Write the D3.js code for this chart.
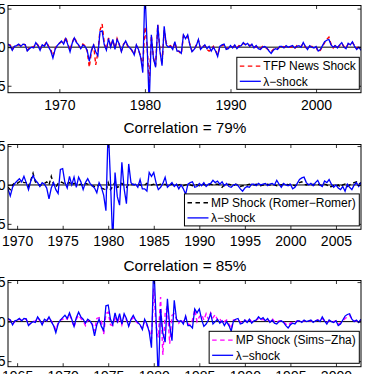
<!DOCTYPE html>
<html>
<head>
<meta charset="utf-8">
<script src="https://cdn.jsdelivr.net/npm/d3@7"></script>
<style>
  body { margin: 0; background: #fff; }
  svg { display: block; font-family: "Liberation Sans", Arial, sans-serif; }
</style>
</head>
<body>
<div id="chart"></div>
<script>
// quarterly series, first value is the start quarter
// lambda-shock, 1964Q1 - 2007Q4
const lambdaShock = [
  0.4, 0.2, -0.4, 0.1,    0.2, 0.4, 0.1, 0.4,     0.35, -0.5, -0.2, 0.0,   -0.1, 0.6, 0.2, -0.4,
  0.3, 0.1, 0.6, 0.0,     -0.5, -1.4, -0.3, 0.2,  0.5, 0.8, 0.4, 1.1,      0.3, -0.6, 0.5, 1.2,
  0.6, 0.3, -0.2, 0.3,    0.1, -0.4, -1.8, -0.4,  0.3, -0.6, -1.1, 2.0,    2.1, 0.3, -0.4, 1.1,
  0.0, 1.0, -0.3, 1.0,    0.4, -0.6, 0.3, 0.8,    0.2, -0.1, -0.4, -1.0,   0.3, -0.3, -1.3, -3.3,
  7.5, 0.5, -7.5, 1.6,    -1.5, -2.6, 2.9, -0.5,  -2.4, 2.7, 0.3, 0.0,     0.1, -0.3, 0.7, -0.5,
  -0.5, -0.8, 1.6, 1.1,   1.6, 0.3, -0.6, -0.3,   0.2, 1.0, -0.3, 0.0,     0.3, -0.2, 0.1, -0.5,
  0.0, -0.5, -1.2, 0.1,   0.3, 0.4, -0.3, -0.2,   0.2, -0.1, 0.3, -0.2,    0.1, 0.2, 0.6, 0.3,
  0.5, 0.1, 0.4, -0.1,    0.2, -0.2, -0.3, 0.0,   0.1, -0.1, -0.5, -0.8,   -0.4, -0.2, -0.3, 0.1,
  0.1, -0.1, 0.2, 0.0,    0.1, 0.2, -0.1, 0.1,    0.2, 0.0, 0.6, 0.1,      -0.3, 0.2, 0.0, -0.1,
  0.1, -0.5, -0.3, 0.2,   0.7, 0.9, 1.0, 0.3,     0.0, 0.2, -0.1, 0.3,     0.6, 0.0, -0.2, 0.5,
  0.3, 0.7, 0.1, -0.3,    0.0, -0.4, -0.6, -0.2,  -0.8, 0.1, -0.3, -0.6,   0.0, 0.3, -0.2, 0.3
];
// TFP news shock, 1964Q1 - 2005Q1
const tfpNews = [
  0.3, 0.3, -0.3, 0.1,    0.2, 0.3, 0.2, 0.4,     0.3, -0.4, -0.1, 0.1,    0.0, 0.5, 0.3, -0.3,
  0.3, 0.2, 0.7, 0.1,     -0.3, -1.2, -0.2, 0.3,  0.5, 0.7, 0.5, 1.3,      0.4, -0.4, 0.6, 1.3,
  0.7, 0.2, -0.1, 0.4,    0.2, -0.5, -2.6, -0.6,  0.4, -2.3, -0.7, 2.2,    3.0, 0.5, -0.3, 1.2,
  0.1, 0.9, -0.2, 1.1,    0.3, -0.5, 0.4, 0.7,    0.1, 0.0, -0.5, -0.9,    0.2, -0.4, -1.1, -2.5,
  2.6, 0.2, -4.7, 1.5,    -1.4, -2.4, 2.9, -0.3,  -2.2, 2.2, 0.5, 0.1,     0.2, -0.2, 0.6, -0.4,
  -0.6, -0.9, 1.5, 1.2,   1.4, 0.4, -0.5, -0.4,   0.3, 0.9, -0.2, 0.1,     0.2, -0.3, -0.5, -0.3,
  0.1, -0.4, -1.0, 0.0,   0.2, 0.3, -0.2, -0.1,   0.1, 0.0, 0.2, -0.1,     0.2, 0.1, 0.5, 0.4,
  0.4, 0.2, 0.3, 0.0,     0.1, -0.1, -0.2, 0.1,   0.0, -0.2, -0.4, -0.6,   -0.3, -0.1, -0.2, 0.0,
  0.2, 0.0, 0.1, 0.1,     0.0, 0.1, -0.2, 0.2,    0.1, 0.1, 0.5, 0.0,      -0.2, 0.1, 0.1, 0.0,
  0.0, -0.6, -0.4, 0.1,   0.6, 1.0, 1.3, 0.4,     -0.1, 0.3, 0.0, 0.2,     0.5, 0.1, -0.1, 0.4,
  0.4, 0.6, 0.2, -0.2,    0.1
];
// MP shock (Romer-Romer), 1969Q1 - 2007Q4
const mpRomer = [
  -0.3, -0.6, 0.0, 0.3,   0.2, 0.4, 0.5, 0.3,     0.3, -0.2, 0.6, 1.5,     0.4, 0.2, -0.1, 0.1,
  0.2, 0.4, 0.0, 1.1,     0.1, -0.3, 0.2, 0.4,    0.3, 0.1, 0.2, 0.3,      0.0, 0.2, 0.1, 0.0,
  0.1, -0.1, 0.2, 0.1,    0.0, -0.1, -0.2, -0.3,  0.1, -0.4, -0.5, -0.8,   0.3, -0.6, -0.2, 0.4,
  -0.3, -0.2, 0.2, -0.1,  -0.3, 0.1, 0.0, 0.1,    0.0, 0.1, 0.0, -0.1,     0.0, 0.2, 0.1, 0.0,
  0.1, -0.1, 0.0, 0.1,    0.0, 0.1, -0.1, 0.0,    0.1, 0.0, -0.1, 0.0,     0.1, -0.1, 0.0, 0.1,
  0.0, -0.1, 0.1, 0.0,    -0.1, 0.0, 0.1, -0.1,   0.0, 0.1, 0.0, 0.1,      0.1, 0.0, -0.3, 0.0,
  0.0, 0.1, 0.0, -0.1,    0.1, 0.0, -0.2, -0.1,   -0.1, 0.0, 0.1, 0.0,     0.0, 0.1, 0.0, -0.1,
  0.0, 0.0, 0.1, 0.0,     0.1, 0.0, -0.1, 0.0,    0.0, 0.1, 0.2, 0.0,      0.1, 0.0, -0.1, 0.0,
  0.3, 0.4, 0.1, 0.0,     0.1, 0.0, 0.1, 0.0,     0.1, 0.0, -0.1, 0.1,     0.0, -0.3, -0.2, -0.1,
  -0.2, 0.0, -0.3, 0.0,   0.1, -0.2, 0.0, 0.2,    0.3, 0.4, 0.1, 0.3
];
// MP shock (Sims-Zha), 1964Q1 - 2002Q4
const mpSimsZha = [
  0.3, 0.2, -0.3, 0.0,    0.2, 0.3, 0.2, 0.3,     0.3, -0.4, -0.2, 0.1,    0.0, 0.5, 0.1, -0.3,
  0.2, 0.1, 0.5, 0.1,     -0.4, -1.0, -0.2, 0.2,  0.3, 0.5, 0.3, 0.9,      0.2, -0.7, 0.3, 0.8,
  0.4, 0.1, -0.5, 0.2,    0.0, -0.3, -1.2, 0.4,   0.5, 0.1, -1.6, 1.0,     1.2, -0.4, -0.5, 0.7,
  -0.2, 0.6, -0.4, 0.8,   0.2, -0.5, 0.2, 0.5,    0.1, -0.2, -0.5, -0.8,   0.1, -0.5, -1.0, -2.2,
  4.2, -0.5, -2.0, 3.1,   -4.2, 1.0, 2.0, -2.8,   0.8, 1.0, 0.3, -0.2,     0.3, -0.1, 0.6, -0.3,
  -0.4, 0.2, 1.5, 0.0,    0.6, 0.9, 0.2, 1.0,     0.3, 1.1, 0.5, 0.9,      0.2, 0.4, -0.2, 0.0,
  0.2, -0.3, -0.9, 0.2,   0.2, 0.3, -0.1, 0.0,    0.2, 0.0, 0.3, 0.0,      0.1, 0.2, 0.4, 0.2,
  0.3, 0.1, 0.2, 0.0,     0.4, 0.0, -0.1, 0.1,    0.1, 0.0, -0.3, -0.5,    -0.2, -0.1, -0.1, 0.1,
  0.1, 0.0, 0.1, 0.1,     0.1, 0.1, 0.0, 0.1,     0.2, 0.1, 0.4, 0.1,      -0.1, 0.1, 0.1, 0.0,
  0.1, -0.3, -0.2, 0.1,   0.4, 0.6, 0.8, 0.3,     0.1, 0.1, 0.0, 0.2
];

const titles = ["", "Correlation = 79%", "Correlation = 85%"];
const compareNames = ["TFP News Shock", "MP Shock (Romer\u2212Romer)", "MP Shock (Sims\u2212Zha)"];
const lambdaName = "\u03bb\u2212shock";
const xTicks = [
  [1970, 1980, 1990, 2000],
  [1970, 1975, 1980, 1985, 1990, 1995, 2000, 2005],
  [1965, 1970, 1975, 1980, 1985, 1990, 1995, 2000]
];
const yTicks = [-5, 0, 5];

// turn a quarterly array into {t, v} points
function quarters(values, startYear) {
  return values.map((v, i) => ({ t: startYear + i / 4, v: v }));
}

const W = 365, H = 374;

const panels = [
  { top: 5.5, bottom: 92.7, xdom: [1964, 2005.25], ydom: [-5.9, 5.4],
    other: quarters(tfpNews, 1964), color: "#ff0000", labelGap: 7 },
  { top: 144.5, bottom: 229.3, xdom: [1969, 2007.75], ydom: [-5.7, 5.2],
    other: quarters(mpRomer, 1969), color: "#000000", labelGap: 7 },
  { top: 280.5, bottom: 366.7, xdom: [1964, 2002.75], ydom: [-5.7, 5.2],
    other: quarters(mpSimsZha, 1964), color: "#ff00ff", labelGap: 4.5 }
];
const titleY = [0, 132.5, 270.5];
const left = 8, right = 361;

const svg = d3.select("#chart").append("svg")
  .attr("width", W)
  .attr("height", H);

svg.append("rect").attr("width", W).attr("height", H).attr("fill", "#fff");

const lambda = quarters(lambdaShock, 1964);

panels.forEach((p, k) => {
  const x = d3.scaleLinear().domain(p.xdom).range([left, right]);
  const y = d3.scaleLinear().domain(p.ydom).range([p.bottom, p.top]);

  const clipId = "clip" + k;
  svg.append("clipPath").attr("id", clipId)
    .append("rect")
    .attr("x", left).attr("y", p.top)
    .attr("width", right - left).attr("height", p.bottom - p.top);

  const g = svg.append("g");
  const plot = g.append("g").attr("clip-path", `url(#${clipId})`);

  // zero line
  plot.append("line")
    .attr("x1", left).attr("x2", right)
    .attr("y1", y(0)).attr("y2", y(0))
    .attr("stroke", "#000").attr("stroke-width", 1);

  const line = d3.line().x(d => x(d.t)).y(d => y(d.v));
  const lamData = lambda.filter(d => d.t >= p.xdom[0] && d.t <= p.xdom[1]);

  plot.append("path")
    .datum(p.other)
    .attr("d", line)
    .attr("fill", "none")
    .attr("stroke", p.color)
    .attr("stroke-width", 1.4)
    .attr("stroke-dasharray", "4,3");

  plot.append("path")
    .datum(lamData)
    .attr("d", line)
    .attr("fill", "none")
    .attr("stroke", "#0000ff")
    .attr("stroke-width", 1.3);

  // axes, ticks pointing inward like matlab
  const tickFont = "14px";
  g.append("g")
    .attr("transform", `translate(0,${p.bottom})`)
    .call(d3.axisBottom(x).tickValues(xTicks[k]).tickFormat(d3.format("d"))
      .tickSizeInner(-3.5).tickSizeOuter(0).tickPadding(p.labelGap));
  g.append("g")
    .attr("transform", `translate(0,${p.top})`)
    .call(d3.axisTop(x).tickValues(xTicks[k]).tickFormat("")
      .tickSizeInner(-3.5).tickSizeOuter(0));
  g.append("g")
    .attr("transform", `translate(${left},0)`)
    .call(d3.axisLeft(y).tickValues(yTicks).tickFormat(d => d)
      .tickSizeInner(-3.5).tickSizeOuter(0).tickPadding(2.5));
  g.append("g")
    .attr("transform", `translate(${right},0)`)
    .call(d3.axisRight(y).tickValues(yTicks).tickFormat("")
      .tickSizeInner(-3.5).tickSizeOuter(0));

  g.selectAll(".domain").remove();
  g.selectAll(".tick line").attr("stroke", "#000").attr("stroke-width", 0.8);
  g.selectAll(".tick text")
    .style("font-size", tickFont)
    .style("font-family", "'Liberation Sans', Arial, sans-serif")
    .attr("fill", "#000");

  g.append("rect")
    .attr("x", left).attr("y", p.top)
    .attr("width", right - left).attr("height", p.bottom - p.top)
    .attr("fill", "none").attr("stroke", "#000").attr("stroke-width", 1);

  if (titles[k]) {
    svg.append("text")
      .attr("x", (left + right) / 2 + 0.5)
      .attr("y", titleY[k])
      .attr("text-anchor", "middle")
      .style("font-size", "15.3px")
      .text(titles[k]);
  }

  // legend
  const leg = g.append("g");
  const legRight = right - 1.7, legBottom = p.bottom - 3.4, legH = 32;
  const t1 = leg.append("text").style("font-size", "12px").text(compareNames[k]);
  const t2 = leg.append("text").style("font-size", "12px").text(lambdaName);
  const textW = Math.max(t1.node().getComputedTextLength(), t2.node().getComputedTextLength());
  const legW = 26.5 + textW + 3.5;
  const lx = legRight - legW, ly = legBottom - legH;

  leg.insert("rect", "text")
    .attr("x", lx).attr("y", ly).attr("width", legW).attr("height", legH)
    .attr("fill", "#fff").attr("stroke", "#000").attr("stroke-width", 1);

  const rows = [ly + 8.8, ly + 24];
  t1.attr("x", lx + 26.5).attr("y", rows[0]).attr("dy", "0.35em");
  t2.attr("x", lx + 26.5).attr("y", rows[1]).attr("dy", "0.35em");

  leg.append("line")
    .attr("x1", lx + 3).attr("x2", lx + 24).attr("y1", rows[0]).attr("y2", rows[0])
    .attr("stroke", p.color).attr("stroke-width", 1.4).attr("stroke-dasharray", "4.5,3.5");
  leg.append("line")
    .attr("x1", lx + 3).attr("x2", lx + 24).attr("y1", rows[1]).attr("y2", rows[1])
    .attr("stroke", "#0000ff").attr("stroke-width", 1.3);
});
</script>
</body>
</html>
